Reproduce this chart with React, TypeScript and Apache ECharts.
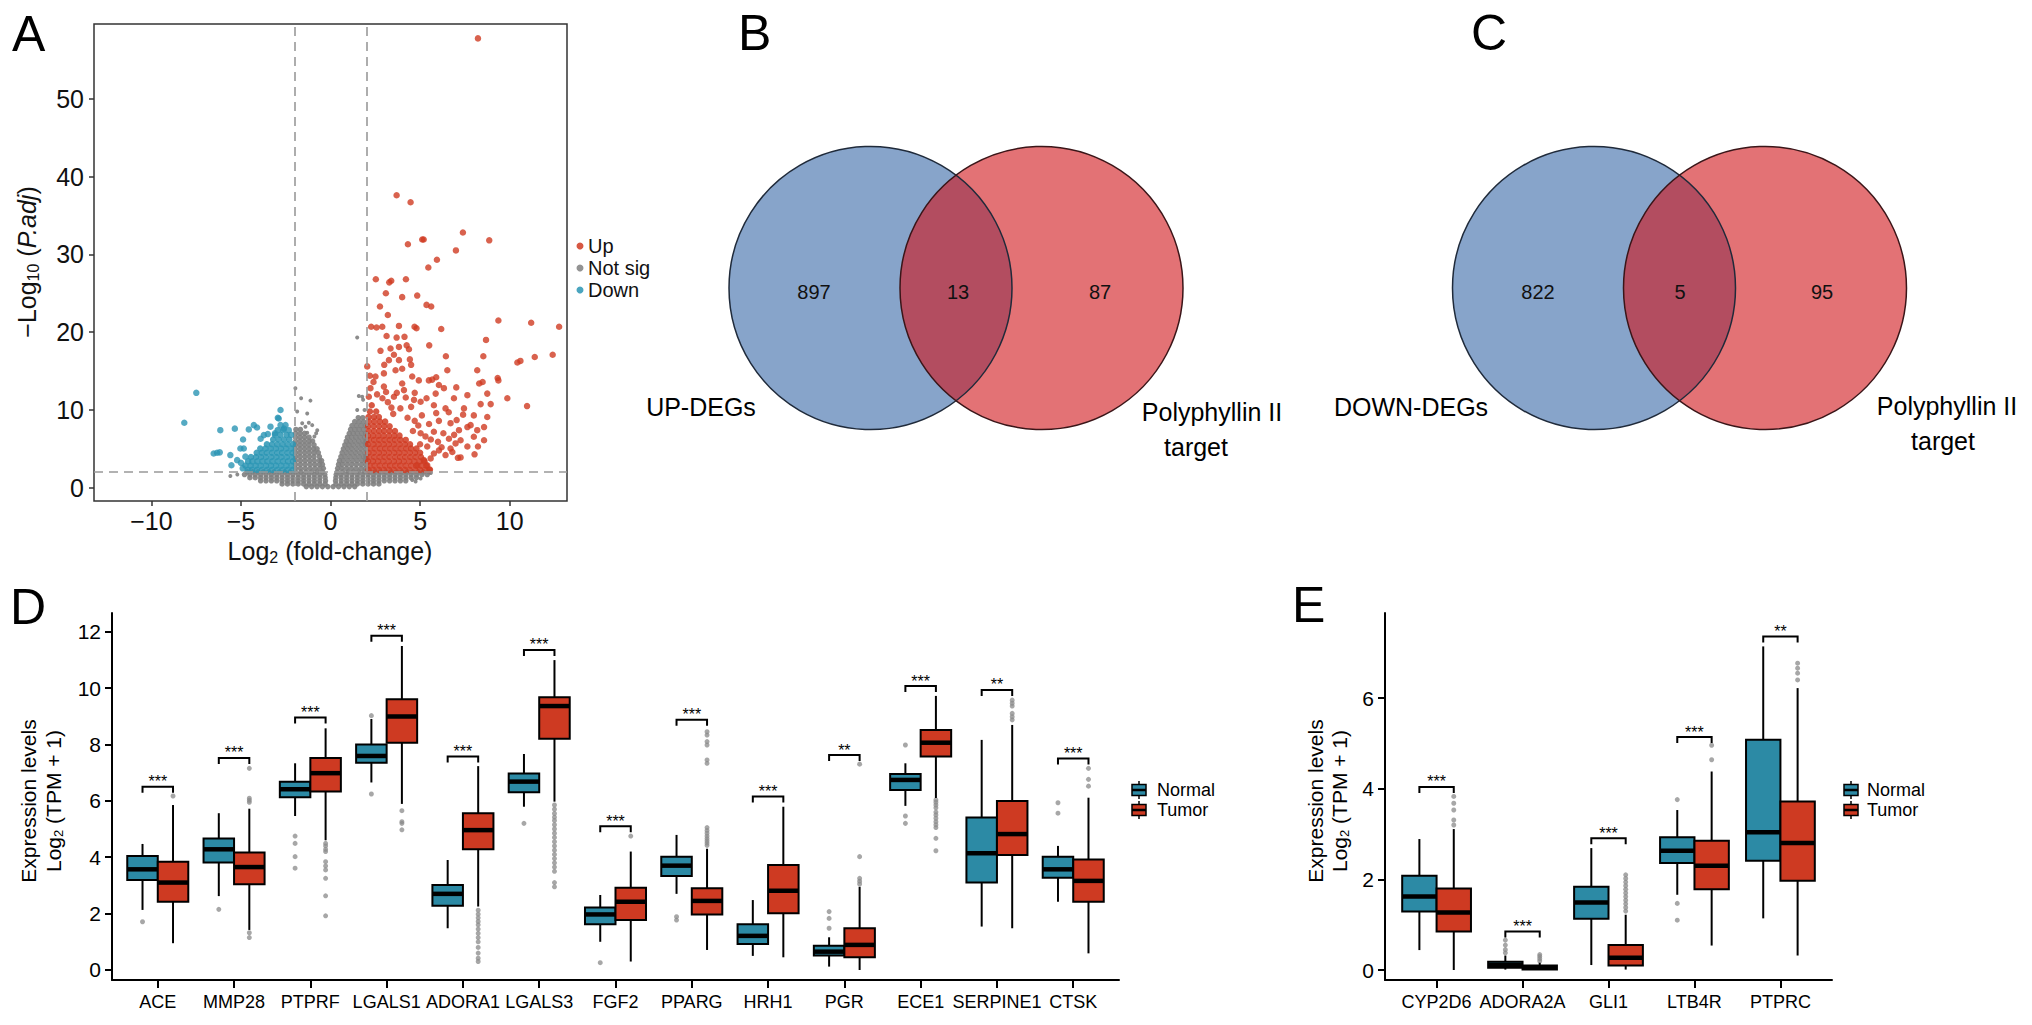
import React, { useEffect, useRef } from 'react';
import * as echarts from 'echarts';

const FONT = '"Liberation Sans", Arial, Helvetica, sans-serif';

// ---------------- Panel A : volcano ----------------
const volcanoXTicks = [-10, -5, 0, 5, 10];
const volcanoYTicks = [0, 10, 20, 30, 40, 50];
const fcCut = 2;
const padjCut = 2;
const volcanoLegend = ['Up', 'Not sig', 'Down'];

const upSparse = [
  [8.23, 57.75], [3.69, 37.6], [4.47, 36.7], [7.39, 32.8], [5.12, 31.9], [5.2, 31.9], [8.86, 31.8], [4.32, 31.3],
  [7.0, 30.5], [5.94, 29.3], [5.46, 28.3], [2.53, 26.8], [3.39, 26.6], [3.28, 26.4], [4.21, 26.8], [3.09, 25.0],
  [4.84, 24.7], [4.0, 24.5], [2.76, 23.3], [5.36, 23.5], [5.62, 23.3], [3.2, 22.2], [2.27, 20.7], [2.57, 20.6],
  [2.89, 20.7], [3.82, 20.8], [4.69, 20.7], [4.8, 20.5], [6.18, 20.4], [9.37, 21.5], [11.2, 21.2], [12.76, 20.7],
  [3.13, 19.5], [3.69, 19.3], [4.13, 19.4], [8.68, 19.0], [4.25, 18.3], [5.51, 18.3], [2.79, 17.6], [3.35, 17.9],
  [3.82, 18.1], [4.38, 17.8], [3.54, 17.1], [6.44, 16.9], [8.53, 16.9], [11.4, 16.8], [12.4, 17.1], [10.43, 16.1],
  [10.6, 16.3], [3.26, 16.4], [3.82, 16.4], [4.43, 16.5], [4.5, 15.8], [6.52, 15.1], [8.19, 15.1], [2.05, 15.6],
  [3.63, 15.1], [4.0, 15.3], [2.98, 14.7], [2.51, 14.3], [4.56, 14.3], [4.93, 13.8], [5.49, 13.8], [5.68, 13.9],
  [9.33, 14.1], [9.37, 13.8], [8.49, 13.6], [8.3, 13.4], [6.05, 13.2], [6.33, 12.8], [7.02, 12.9], [8.75, 12.1],
  [7.64, 11.9], [9.87, 11.5], [10.97, 10.5], [8.38, 10.75], [8.94, 10.75], [7.45, 10.2], [5.87, 12.1], [5.36, 11.5],
  [6.89, 11.5], [4.1, 12.55], [2.98, 13.0], [2.23, 12.8], [2.14, 11.7], [3.54, 11.7], [4.66, 11.3], [5.03, 11.05],
  [5.77, 10.6], [6.42, 10.2], [8.0, 9.3], [8.75, 9.1], [7.04, 8.7], [7.82, 8.05], [8.57, 7.8], [7.64, 7.8],
  [7.17, 7.4], [6.05, 8.6], [6.7, 8.3], [5.77, 7.2], [5.03, 7.0], [8.19, 7.4], [8.0, 6.55], [8.57, 6.1],
  [6.61, 6.3], [7.26, 6.1], [6.98, 5.7], [7.64, 5.3], [8.23, 5.3], [8.04, 4.3], [6.7, 5.05], [6.05, 4.8],
  [6.42, 4.2], [7.11, 3.85], [7.26, 3.9], [5.59, 3.77], [5.77, 4.4], [5.21, 3.55], [5.4, 2.9], [5.55, 2.35],
  [4.84, 2.9], [3.5, 9.5], [3.9, 10.2], [4.3, 9.0], [4.7, 8.6], [5.1, 9.3], [5.5, 8.2], [3.2, 11.0], [3.7, 12.2],
  [4.5, 10.4], [5.9, 9.6], [6.3, 7.0], [5.6, 6.2], [6.0, 5.9], [6.9, 6.8], [4.9, 8.0], [3.4, 10.3], [2.6, 12.0],
  [4.2, 11.6], [5.3, 6.6], [6.6, 9.7], [7.4, 9.4], [5.0, 5.6], [5.4, 5.3], [6.2, 5.2], [6.8, 4.6], [4.6, 7.3],
  [2.9, 11.5], [3.1, 12.3], [4.0, 13.4], [2.4, 13.6], [2.2, 14.4], [3.0, 15.8], [4.7, 12.2], [5.9, 14.2],
];

const upCloudRows: [number, number[]][] = [
  [2.3, [2.12, 2.4, 2.7, 2.98, 3.27, 3.55, 3.86, 4.14, 4.42, 4.73, 5.0, 5.28, 5.52]],
  [2.85, [2.18, 2.46, 2.75, 3.05, 3.33, 3.62, 3.9, 4.2, 4.5, 4.78, 5.07, 5.35]],
  [3.4, [2.1, 2.38, 2.66, 2.95, 3.25, 3.54, 3.82, 4.1, 4.4, 4.68, 4.97, 5.25]],
  [3.95, [2.16, 2.45, 2.74, 3.02, 3.3, 3.6, 3.88, 4.17, 4.46, 4.75, 5.05]],
  [4.5, [2.12, 2.4, 2.7, 2.98, 3.27, 3.56, 3.84, 4.13, 4.43, 4.72, 5.0]],
  [5.05, [2.18, 2.47, 2.76, 3.05, 3.34, 3.63, 3.92, 4.22, 4.5, 4.8]],
  [5.6, [2.1, 2.4, 2.68, 2.97, 3.26, 3.55, 3.85, 4.15, 4.44]],
  [6.15, [2.15, 2.44, 2.73, 3.02, 3.31, 3.6, 3.9, 4.2]],
  [6.7, [2.1, 2.38, 2.67, 2.96, 3.26, 3.56, 3.85]],
  [7.3, [2.14, 2.43, 2.72, 3.0, 3.3, 3.6]],
  [7.9, [2.1, 2.4, 2.7, 3.0, 3.3]],
  [8.5, [2.15, 2.45, 2.76, 3.05]],
  [9.1, [2.12, 2.42, 2.7]],
  [9.8, [2.2, 2.55]],
  [10.6, [2.3]],
];

const downSparse = [
  [-7.49, 12.2], [-8.16, 8.35], [-6.15, 7.4], [-5.34, 7.6], [-6.52, 4.4], [-6.33, 4.5], [-6.18, 4.55], [-5.59, 4.2],
  [-5.53, 2.9], [-4.88, 6.2], [-4.84, 5.05], [-5.03, 5.05], [-4.56, 7.5], [-4.28, 8.05], [-4.1, 7.75], [-3.72, 6.77],
  [-2.79, 10.0], [-2.94, 9.0], [-2.89, 8.9], [-2.79, 8.05], [-3.35, 7.85], [-2.51, 8.05], [-2.33, 7.4], [-5.21, 3.55],
  [-4.75, 4.0], [-5.0, 3.2], [-4.9, 2.5], [-3.9, 6.3], [-3.5, 6.9], [-2.2, 6.8], [-2.6, 7.6], [-3.1, 7.0],
];

const downCloudRows: [number, number[]][] = [
  [2.3, [-2.12, -2.4, -2.68, -2.96, -3.25, -3.53, -3.82, -4.1, -4.38, -4.62]],
  [2.85, [-2.18, -2.46, -2.75, -3.04, -3.32, -3.6, -3.9, -4.18, -4.46, -4.75]],
  [3.4, [-2.1, -2.38, -2.66, -2.95, -3.24, -3.52, -3.8, -4.08, -4.36, -4.6]],
  [3.95, [-2.16, -2.45, -2.74, -3.02, -3.3, -3.6, -3.88, -4.16, -4.44]],
  [4.5, [-2.12, -2.4, -2.7, -2.98, -3.27, -3.56, -3.84, -4.12]],
  [5.05, [-2.18, -2.47, -2.76, -3.05, -3.34, -3.63, -3.92]],
  [5.6, [-2.1, -2.4, -2.68, -2.97, -3.26, -3.55]],
  [6.2, [-2.3, -2.6, -2.9, -3.2]],
  [6.8, [-2.45, -2.8, -3.1]],
  [7.4, [-2.65, -2.95]],
];

const greyCloudRows: [number, number[]][] = [
  [0.15, [-1.35, -1.05, -0.75, -0.45, -0.15, 0.15, 0.45, 0.75, 1.05, 1.35]],
  [0.5, [-2.7, -2.4, -2.1, -1.8, -1.5, -1.2, -0.9, -0.6, -0.3, 0.3, 0.6, 0.9, 1.2, 1.5, 1.8, 2.1, 2.4, 2.7]],
  [0.9, [-3.9, -3.6, -3.3, -3.0, -2.7, -2.4, -2.1, -1.8, -1.5, -1.2, -0.9, -0.6, -0.28, 0.28, 0.6, 0.9, 1.2, 1.5, 1.8, 2.1, 2.4, 2.7, 3.0, 3.3, 3.6, 3.9, 4.2]],
  [1.3, [-4.5, -4.2, -3.9, -3.6, -3.3, -3.0, -2.7, -2.4, -2.1, -1.8, -1.5, -1.2, -0.9, -0.6, -0.3, 0.3, 0.6, 0.9, 1.2, 1.5, 1.8, 2.1, 2.4, 2.7, 3.0, 3.3, 3.6, 3.9, 4.2, 4.5, 4.8]],
  [1.7, [-4.8, -4.5, -4.2, -3.9, -3.6, -3.3, -3.0, -2.7, -2.4, -2.1, -1.8, -1.5, -1.2, -0.9, -0.6, -0.32, 0.32, 0.6, 0.9, 1.2, 1.5, 1.8, 2.1, 2.4, 2.7, 3.0, 3.3, 3.6, 3.9, 4.2, 4.5, 4.8, 5.1, 5.4]],
  [2.05, [-4.65, -4.35, -4.05, -3.75, -3.45, -3.15, -2.85, -2.55, -2.25, -1.95, -1.65, -1.35, -1.05, -0.75, -0.45, 0.38, 0.68, 0.98, 1.28, 1.58, 1.88, 2.18, 2.48, 2.78, 3.08, 3.38, 3.68, 3.98, 4.28, 4.58, 4.88, 5.18, 5.5]],
  [2.5, [-1.95, -1.68, -1.41, -1.14, -0.87, -0.6, -0.4, 0.4, 0.62, 0.89, 1.16, 1.43, 1.7, 1.95]],
  [3.0, [-1.95, -1.68, -1.41, -1.14, -0.88, -0.62, -0.45, 0.45, 0.66, 0.92, 1.18, 1.45, 1.72, 1.97]],
  [3.5, [-1.95, -1.68, -1.42, -1.16, -0.9, -0.62, -0.5, 0.5, 0.72, 0.98, 1.24, 1.5, 1.76, 1.97]],
  [4.0, [-1.95, -1.7, -1.44, -1.18, -0.92, -0.62, 0.58, 0.82, 1.08, 1.34, 1.6, 1.84, 1.98]],
  [4.5, [-1.95, -1.7, -1.44, -1.18, -0.92, -0.68, 0.65, 0.9, 1.15, 1.4, 1.65, 1.9]],
  [5.0, [-1.96, -1.7, -1.45, -1.2, -0.95, -0.75, 0.72, 0.96, 1.2, 1.45, 1.7, 1.95]],
  [5.5, [-1.95, -1.7, -1.45, -1.2, -0.92, 0.8, 1.03, 1.27, 1.52, 1.76, 1.97]],
  [6.0, [-1.95, -1.7, -1.45, -1.2, -1.0, 0.88, 1.1, 1.34, 1.58, 1.82, 1.98]],
  [6.5, [-1.95, -1.7, -1.45, -1.2, 0.95, 1.18, 1.42, 1.66, 1.9]],
  [7.0, [-1.95, -1.7, -1.45, 1.05, 1.27, 1.5, 1.74, 1.96]],
  [7.5, [-1.93, -1.68, 1.12, 1.36, 1.6, 1.84]],
  [8.0, [1.2, 1.45, 1.7, 1.95]],
  [8.5, [1.35, 1.6, 1.85]],
  [9.0, [1.55, 1.8]],
];

const greySparse = [
  [1.49, 19.3], [-1.96, 12.8], [-1.64, 11.5], [-1.12, 11.2], [-1.3, 9.55], [-1.86, 9.8], [-1.58, 8.3], [-1.21, 8.35],
  [-1.4, 7.85], [-1.02, 8.05], [-0.74, 7.4], [-1.3, 7.07], [1.49, 10.0], [1.9, 10.0], [1.58, 11.8], [1.77, 11.7],
  [1.82, 11.3], [4.56, 1.0], [5.03, 1.2], [4.75, 0.8], [-5.59, 1.5], [5.6, 1.9], [-5.2, 1.7], [-0.9, 6.6], [-0.8, 7.0],
];

// ---------------- Panels B, C : Venn ----------------
const vennBCounts = [897, 13, 87];
const vennBLabels = ['UP-DEGs', 'Polyphyllin II', 'target'];
const vennCCounts = [822, 5, 95];
const vennCLabels = ['DOWN-DEGs', 'Polyphyllin II', 'target'];

// ---------------- Panel D : boxplots ----------------
const dGenes = ['ACE', 'MMP28', 'PTPRF', 'LGALS1', 'ADORA1', 'LGALS3', 'FGF2', 'PPARG', 'HRH1', 'PGR', 'ECE1', 'SERPINE1', 'CTSK'];
const dYTicks = [0, 2, 4, 6, 8, 10, 12];
// [lower whisker, q1, median, q3, upper whisker]
const dNormal = [
  [2.13, 3.19, 3.57, 4.04, 4.47], [2.62, 3.81, 4.28, 4.66, 5.56], [5.46, 6.13, 6.41, 6.68, 7.33], [6.65, 7.35, 7.59, 8.0, 8.9],
  [1.48, 2.28, 2.7, 3.01, 3.9], [5.79, 6.3, 6.68, 6.97, 7.66], [1.0, 1.62, 1.97, 2.22, 2.66], [2.7, 3.33, 3.7, 4.02, 4.79],
  [0.5, 0.92, 1.21, 1.62, 2.48], [0.12, 0.51, 0.65, 0.86, 1.16], [5.82, 6.38, 6.74, 6.95, 7.33], [1.54, 3.1, 4.14, 5.41, 8.16],
  [2.42, 3.27, 3.57, 4.02, 4.4],
];
const dTumor = [
  [0.95, 2.42, 3.1, 3.84, 5.85], [1.42, 3.04, 3.65, 4.17, 5.72], [4.6, 6.33, 6.98, 7.52, 8.57], [5.89, 8.06, 8.99, 9.6, 11.49],
  [2.25, 4.28, 4.96, 5.56, 7.23], [5.97, 8.2, 9.36, 9.67, 10.99], [0.3, 1.77, 2.42, 2.92, 4.2], [0.71, 1.97, 2.45, 2.9, 4.3],
  [0.45, 2.01, 2.81, 3.72, 5.79], [0.0, 0.45, 0.89, 1.48, 2.95], [6.1, 7.57, 8.06, 8.51, 9.72], [1.48, 4.08, 4.82, 5.99, 8.69],
  [0.59, 2.42, 3.16, 3.92, 6.11],
];
const dNormalOut = [
  [1.71], [2.15], [4.75, 4.49, 4.02, 3.61], [9.02, 6.24], [], [5.2], [0.26], [1.89, 1.77], [], [2.07, 1.83, 1.48],
  [7.98, 5.46, 5.2], [], [5.93, 5.56],
];
const dTumorOut = [
  [6.17], [7.15, 6.09, 6.02, 5.95, 1.32, 1.15], [4.49, 4.4, 4.28, 4.2, 3.84, 3.69, 3.55, 3.25, 2.63, 1.92], [5.65, 5.26, 5.2, 4.97],
  [2.12, 1.98, 1.85, 1.72, 1.6, 1.45, 1.3, 1.15, 1.0, 0.8, 0.6, 0.42, 0.3],
  [5.85, 5.7, 5.55, 5.42, 5.3, 5.15, 5.0, 4.85, 4.7, 4.55, 4.4, 4.25, 4.1, 3.95, 3.8, 3.65, 3.5, 3.1, 2.95],
  [4.75], [4.42, 4.5, 4.58, 4.66, 4.75, 4.85, 4.95, 5.05, 7.33, 7.45, 7.98, 8.1, 8.33, 8.45], [], [3.05, 3.15, 3.25, 4.02, 7.3],
  [6.03, 5.95, 5.85, 5.75, 5.6, 5.5, 5.38, 5.26, 5.15, 5.05, 4.67, 4.23], [8.87, 8.98, 9.1, 9.36, 9.46, 9.57], [6.52, 6.76, 7.15],
];
const dSigY = [6.5, 7.52, 8.95, 11.85, 7.57, 11.35, 5.1, 8.87, 6.15, 7.62, 10.07, 9.93, 7.5];
const dSigLabel = ['***', '***', '***', '***', '***', '***', '***', '***', '***', '**', '***', '**', '***'];

// ---------------- Panel E : boxplots ----------------
const eGenes = ['CYP2D6', 'ADORA2A', 'GLI1', 'LTB4R', 'PTPRC'];
const eYTicks = [0, 2, 4, 6];
const eNormal = [
  [0.44, 1.29, 1.62, 2.08, 2.89], [0.01, 0.05, 0.11, 0.18, 0.32], [0.11, 1.13, 1.49, 1.84, 2.69], [1.66, 2.36, 2.63, 2.93, 3.53],
  [1.14, 2.41, 3.04, 5.08, 7.14],
];
const eTumor = [
  [0.0, 0.85, 1.27, 1.8, 3.11], [0.0, 0.01, 0.05, 0.1, 0.16], [0.01, 0.1, 0.27, 0.55, 1.22], [0.54, 1.78, 2.3, 2.85, 4.38],
  [0.32, 1.97, 2.8, 3.72, 6.22],
];
const eNormalOut = [[], [0.38, 0.45, 0.55, 0.66], [], [3.76, 1.47, 1.1], []];
const eTumorOut = [
  [3.2, 3.31, 3.53, 3.68, 3.83], [0.2, 0.25, 0.3, 0.34],
  [1.3, 1.38, 1.46, 1.54, 1.62, 1.7, 1.78, 1.86, 1.94, 2.02, 2.1], [4.64, 4.96], [6.4, 6.55, 6.66, 6.77],
];
const eSigY = [4.04, 0.85, 2.91, 5.14, 7.36];
const eSigLabel = ['***', '***', '***', '***', '**'];

const groupNames = ['Normal', 'Tumor'];

// ---------------- styling constants ----------------
const C_UP = '#D03B22';
const C_DOWN = '#2A95B4';
const C_NS = '#808080';
const C_NORMAL = '#2C8AA5';
const C_TUMOR = '#CE3A22';

function rowsToPoints(rows: [number, number[]][]) {
  const out: number[][] = [];
  rows.forEach(([y, xs]) => xs.forEach((x) => out.push([x, y])));
  return out;
}

const minusFmt = (v: number) => (v < 0 ? '\u2212' + Math.abs(v) : String(v));

function boxRender(color: string) {
  return (params: any, api: any) => {
    const x = api.value(0);
    const lo = api.coord([x, api.value(1)]);
    const q1 = api.coord([x, api.value(2)]);
    const md = api.coord([x, api.value(3)]);
    const q3 = api.coord([x, api.value(4)]);
    const hi = api.coord([x, api.value(5)]);
    const hw = api.size([0.2, 0])[0];
    return {
      type: 'group',
      children: [
        { type: 'line', shape: { x1: hi[0], y1: hi[1], x2: q3[0], y2: q3[1] }, style: { stroke: '#000', lineWidth: 2 } },
        { type: 'line', shape: { x1: q1[0], y1: q1[1], x2: lo[0], y2: lo[1] }, style: { stroke: '#000', lineWidth: 2 } },
        {
          type: 'rect',
          shape: { x: q3[0] - hw, y: q3[1], width: 2 * hw, height: Math.max(q1[1] - q3[1], 1) },
          style: { fill: color, stroke: '#000', lineWidth: 2 },
        },
        { type: 'line', shape: { x1: md[0] - hw, y1: md[1], x2: md[0] + hw, y2: md[1] }, style: { stroke: '#000', lineWidth: 4.5 } },
      ],
    };
  };
}

function sigRender(labels: string[]) {
  return (params: any, api: any) => {
    const i = api.value(0);
    const y = api.value(1);
    const l = api.coord([i - 0.2, y]);
    const r = api.coord([i + 0.2, y]);
    return {
      type: 'group',
      children: [
        {
          type: 'polyline',
          shape: { points: [[l[0], l[1] + 6], [l[0], l[1]], [r[0], r[1]], [r[0], r[1] + 6]] },
          style: { stroke: '#000', lineWidth: 2, fill: 'none' },
        },
        {
          type: 'text',
          x: (l[0] + r[0]) / 2,
          y: l[1] + 3,
          style: { text: labels[params.dataIndex], fill: '#000', fontSize: 16, fontFamily: FONT, align: 'center', verticalAlign: 'bottom' },
        },
      ],
    };
  };
}

function boxPanelSeries(gi: number, normal: number[][], tumor: number[][], nOut: number[][], tOut: number[][], sigY: number[], sigLab: string[]) {
  const outPts: number[][] = [];
  nOut.forEach((vs, i) => vs.forEach((v) => outPts.push([i - 0.2, v])));
  tOut.forEach((vs, i) => vs.forEach((v) => outPts.push([i + 0.2, v])));
  return [
    {
      type: 'scatter', xAxisIndex: gi, yAxisIndex: gi, data: outPts, symbolSize: 5, silent: true,
      itemStyle: { color: '#8a8a8a', opacity: 0.75 },
    },
    {
      type: 'custom', name: groupNames[0], xAxisIndex: gi, yAxisIndex: gi, renderItem: boxRender(C_NORMAL),
      data: normal.map((r, i) => [i - 0.2, ...r]), encode: { x: 0, y: [1, 2, 3, 4, 5] }, silent: true, z: 3,
    },
    {
      type: 'custom', name: groupNames[1], xAxisIndex: gi, yAxisIndex: gi, renderItem: boxRender(C_TUMOR),
      data: tumor.map((r, i) => [i + 0.2, ...r]), encode: { x: 0, y: [1, 2, 3, 4, 5] }, silent: true, z: 3,
    },
    {
      type: 'custom', xAxisIndex: gi, yAxisIndex: gi, renderItem: sigRender(sigLab),
      data: sigY.map((y, i) => [i, y]), encode: { x: 0, y: 1 }, silent: true, z: 4,
    },
  ];
}

function boxXAxis(gi: number, cats: string[]) {
  const pos = cats.map((_, i) => i);
  return {
    gridIndex: gi, type: 'value', min: -0.6, max: cats.length - 0.4,
    axisLine: { show: true, onZero: false, lineStyle: { color: '#000', width: 2 } },
    axisTick: { show: true, length: 8, customValues: pos, lineStyle: { color: '#000', width: 2 } },
    axisLabel: {
      customValues: pos, fontSize: 18, color: '#000', margin: 13, fontFamily: FONT,
      formatter: (v: number) => cats[Math.round(v)] ?? '',
    },
    splitLine: { show: false },
  };
}

function boxYAxis(gi: number, min: number, max: number, ticks: number[]) {
  return {
    gridIndex: gi, type: 'value', min, max,
    axisLine: { show: true, onZero: false, lineStyle: { color: '#000', width: 2 } },
    axisTick: { show: true, length: 7, customValues: ticks, lineStyle: { color: '#000', width: 2 } },
    axisLabel: { customValues: ticks, fontSize: 21, color: '#000', margin: 11, fontFamily: FONT },
    splitLine: { show: false },
  };
}

function legendKey(cx: number, cy: number, color: string) {
  return [
    { type: 'line', shape: { x1: cx, y1: cy - 9, x2: cx, y2: cy + 9 }, style: { stroke: '#000', lineWidth: 1.5 } },
    { type: 'rect', shape: { x: cx - 7, y: cy - 5.5, width: 14, height: 11 }, style: { fill: color, stroke: '#000', lineWidth: 1.5 } },
    { type: 'line', shape: { x1: cx - 7, y1: cy, x2: cx + 7, y2: cy }, style: { stroke: '#000', lineWidth: 2.5 } },
  ];
}

function boxLegend(kx: number, tx: number) {
  const ys = [790, 810];
  const colors = [C_NORMAL, C_TUMOR];
  const els: any[] = [];
  groupNames.forEach((name, i) => {
    els.push(...legendKey(kx, ys[i], colors[i]));
    els.push({ type: 'text', x: tx, y: ys[i], style: { text: name, fontSize: 18, fontFamily: FONT, fill: '#000', align: 'left', verticalAlign: 'middle' } });
  });
  return els;
}

function yTitle2(x1: number, x2: number, cy: number) {
  return [
    {
      type: 'text', x: x1, y: cy, rotation: Math.PI / 2,
      style: { text: 'Expression levels', fontSize: 21, fontFamily: FONT, fill: '#000', align: 'center', verticalAlign: 'middle' },
    },
    {
      type: 'text', x: x2, y: cy, rotation: Math.PI / 2,
      style: {
        text: '{a|Log}{s|2}{a| (TPM + 1)}', align: 'center', verticalAlign: 'middle',
        rich: {
          a: { fontSize: 21, fontFamily: FONT, fill: '#000', lineHeight: 24 },
          s: { fontSize: 13, fontFamily: FONT, fill: '#000', lineHeight: 8, verticalAlign: 'bottom' },
        },
      },
    },
  ];
}

function venn(bx: number, rx: number, cy: number, counts: number[], labels: string[], numX: number[], lab: number[][]) {
  const r = 141.5;
  const els: any[] = [
    { type: 'circle', shape: { cx: bx, cy, r }, style: { fill: '#87A4CA' } },
    { type: 'circle', shape: { cx: rx, cy, r }, style: { fill: 'rgba(208,20,25,0.6)' } },
    { type: 'circle', shape: { cx: bx, cy, r }, style: { fill: 'none', stroke: '#1f2a3a', lineWidth: 1.5 } },
    { type: 'circle', shape: { cx: rx, cy, r }, style: { fill: 'none', stroke: '#3a1518', lineWidth: 1.5 } },
  ];
  counts.forEach((c, i) => {
    els.push({ type: 'text', x: numX[i], y: cy + 4, style: { text: String(c), fontSize: 20, fontFamily: FONT, fill: '#111', align: 'center', verticalAlign: 'middle' } });
  });
  labels.forEach((t, i) => {
    els.push({ type: 'text', x: lab[i][0], y: lab[i][1], style: { text: t, fontSize: 25, fontFamily: FONT, fill: '#000', align: 'center', verticalAlign: 'middle' } });
  });
  return els;
}

function buildOption() {
  const upPts = rowsToPoints(upCloudRows);
  const downPts = rowsToPoints(downCloudRows);
  const greyPts = rowsToPoints(greyCloudRows);

  const letter = (t: string, x: number, y: number) => ({
    type: 'text', x, y, style: { text: t, fontSize: 50, fontFamily: FONT, fill: '#000', align: 'left', verticalAlign: 'middle' },
  });

  const legendColors = [C_UP, C_NS, C_DOWN];
  const legendYs = [246, 268, 290];
  const aLegend: any[] = [];
  volcanoLegend.forEach((t, i) => {
    aLegend.push({ type: 'circle', shape: { cx: 580, cy: legendYs[i], r: 3.5 }, style: { fill: legendColors[i], opacity: 0.85 } });
    aLegend.push({ type: 'text', x: 588, y: legendYs[i], style: { text: t, fontSize: 20, fontFamily: FONT, fill: '#111', align: 'left', verticalAlign: 'middle' } });
  });

  const graphic: any[] = [
    letter('A', 12, 34), letter('B', 738, 33), letter('C', 1471, 33), letter('D', 10, 607), letter('E', 1292, 605),
    {
      type: 'text', x: 330, y: 551,
      style: {
        text: '{a|Log}{s|2}{a| (fold-change)}', align: 'center', verticalAlign: 'middle',
        rich: {
          a: { fontSize: 25, fontFamily: FONT, fill: '#111', lineHeight: 28 },
          s: { fontSize: 16, fontFamily: FONT, fill: '#111', lineHeight: 9, verticalAlign: 'bottom' },
        },
      },
    },
    {
      type: 'text', x: 27, y: 262, rotation: Math.PI / 2,
      style: {
        text: '{a|\u2212Log}{s|10}{a| (}{i|P.adj}{a|)}', align: 'center', verticalAlign: 'middle',
        rich: {
          a: { fontSize: 25, fontFamily: FONT, fill: '#111', lineHeight: 28 },
          i: { fontSize: 25, fontFamily: FONT, fill: '#111', lineHeight: 28, fontStyle: 'italic' },
          s: { fontSize: 16, fontFamily: FONT, fill: '#111', lineHeight: 9, verticalAlign: 'bottom' },
        },
      },
    },
    ...aLegend,
    ...venn(870.5, 1041.5, 288, vennBCounts, vennBLabels, [814, 958, 1100], [[701, 407], [1212, 412], [1196, 447]]),
    ...venn(1594, 1765, 288, vennCCounts, vennCLabels, [1538, 1680, 1822], [[1411, 407], [1947, 406], [1943, 441]]),
    ...yTitle2(28, 53, 801),
    ...yTitle2(1315, 1339, 801),
    ...boxLegend(1139, 1157),
    ...boxLegend(1851, 1867),
  ];

  return {
    animation: false,
    backgroundColor: '#ffffff',
    textStyle: { fontFamily: FONT },
    grid: [
      { left: 94, top: 24, width: 473, height: 477, show: true, borderColor: '#333', borderWidth: 1.5, backgroundColor: 'transparent' },
      { left: 112, top: 613, width: 1007, height: 367 },
      { left: 1385, top: 613, width: 447, height: 367 },
    ],
    xAxis: [
      {
        gridIndex: 0, type: 'value', min: -13.2, max: 13.2,
        axisLine: { show: false, onZero: false },
        axisTick: { show: true, length: 5, customValues: volcanoXTicks, lineStyle: { color: '#333', width: 1.5 } },
        axisLabel: { customValues: volcanoXTicks, fontSize: 25, color: '#111', margin: 7, formatter: minusFmt, fontFamily: FONT },
        splitLine: { show: false },
      },
      boxXAxis(1, dGenes),
      boxXAxis(2, eGenes),
    ],
    yAxis: [
      {
        gridIndex: 0, type: 'value', min: -1.7, max: 59.6,
        axisLine: { show: false, onZero: false },
        axisTick: { show: true, length: 5, customValues: volcanoYTicks, lineStyle: { color: '#333', width: 1.5 } },
        axisLabel: { customValues: volcanoYTicks, fontSize: 25, color: '#111', margin: 10, fontFamily: FONT },
        splitLine: { show: false },
      },
      boxYAxis(1, -0.355, 12.66, dYTicks),
      boxYAxis(2, -0.22, 7.877, eYTicks),
    ],
    series: [
      { type: 'scatter', xAxisIndex: 0, yAxisIndex: 0, data: greyPts, symbolSize: 5.5, silent: true, itemStyle: { color: C_NS, opacity: 0.9 } },
      { type: 'scatter', xAxisIndex: 0, yAxisIndex: 0, data: greySparse, symbolSize: 4, silent: true, itemStyle: { color: C_NS, opacity: 0.9 } },
      { type: 'scatter', xAxisIndex: 0, yAxisIndex: 0, data: downPts, symbolSize: 6.5, silent: true, itemStyle: { color: C_DOWN, opacity: 0.85 } },
      { type: 'scatter', xAxisIndex: 0, yAxisIndex: 0, data: downSparse, symbolSize: 6.5, silent: true, itemStyle: { color: C_DOWN, opacity: 0.8 } },
      { type: 'scatter', xAxisIndex: 0, yAxisIndex: 0, data: upPts, symbolSize: 6.5, silent: true, itemStyle: { color: C_UP, opacity: 0.85 } },
      {
        type: 'scatter', xAxisIndex: 0, yAxisIndex: 0, data: upSparse, symbolSize: 6.5, silent: true, z: 3,
        itemStyle: { color: C_UP, opacity: 0.8 },
        markLine: {
          silent: true, symbol: 'none', label: { show: false }, animation: false,
          lineStyle: { color: '#999', type: [9, 6], width: 1.6 },
          data: [{ xAxis: -fcCut }, { xAxis: fcCut }, { yAxis: padjCut }],
        },
      },
      ...boxPanelSeries(1, dNormal, dTumor, dNormalOut, dTumorOut, dSigY, dSigLabel),
      ...boxPanelSeries(2, eNormal, eTumor, eNormalOut, eTumorOut, eSigY, eSigLabel),
    ],
    graphic,
  };
}

export default function App() {
  const ref = useRef<HTMLDivElement>(null);
  useEffect(() => {
    document.body.style.margin = '0';
    const chart = echarts.init(ref.current as HTMLDivElement, null, { renderer: 'svg' });
    chart.setOption(buildOption() as any);
    return () => chart.dispose();
  }, []);
  return <div ref={ref} style={{ width: 2032, height: 1025, background: '#fff' }} />;
}
